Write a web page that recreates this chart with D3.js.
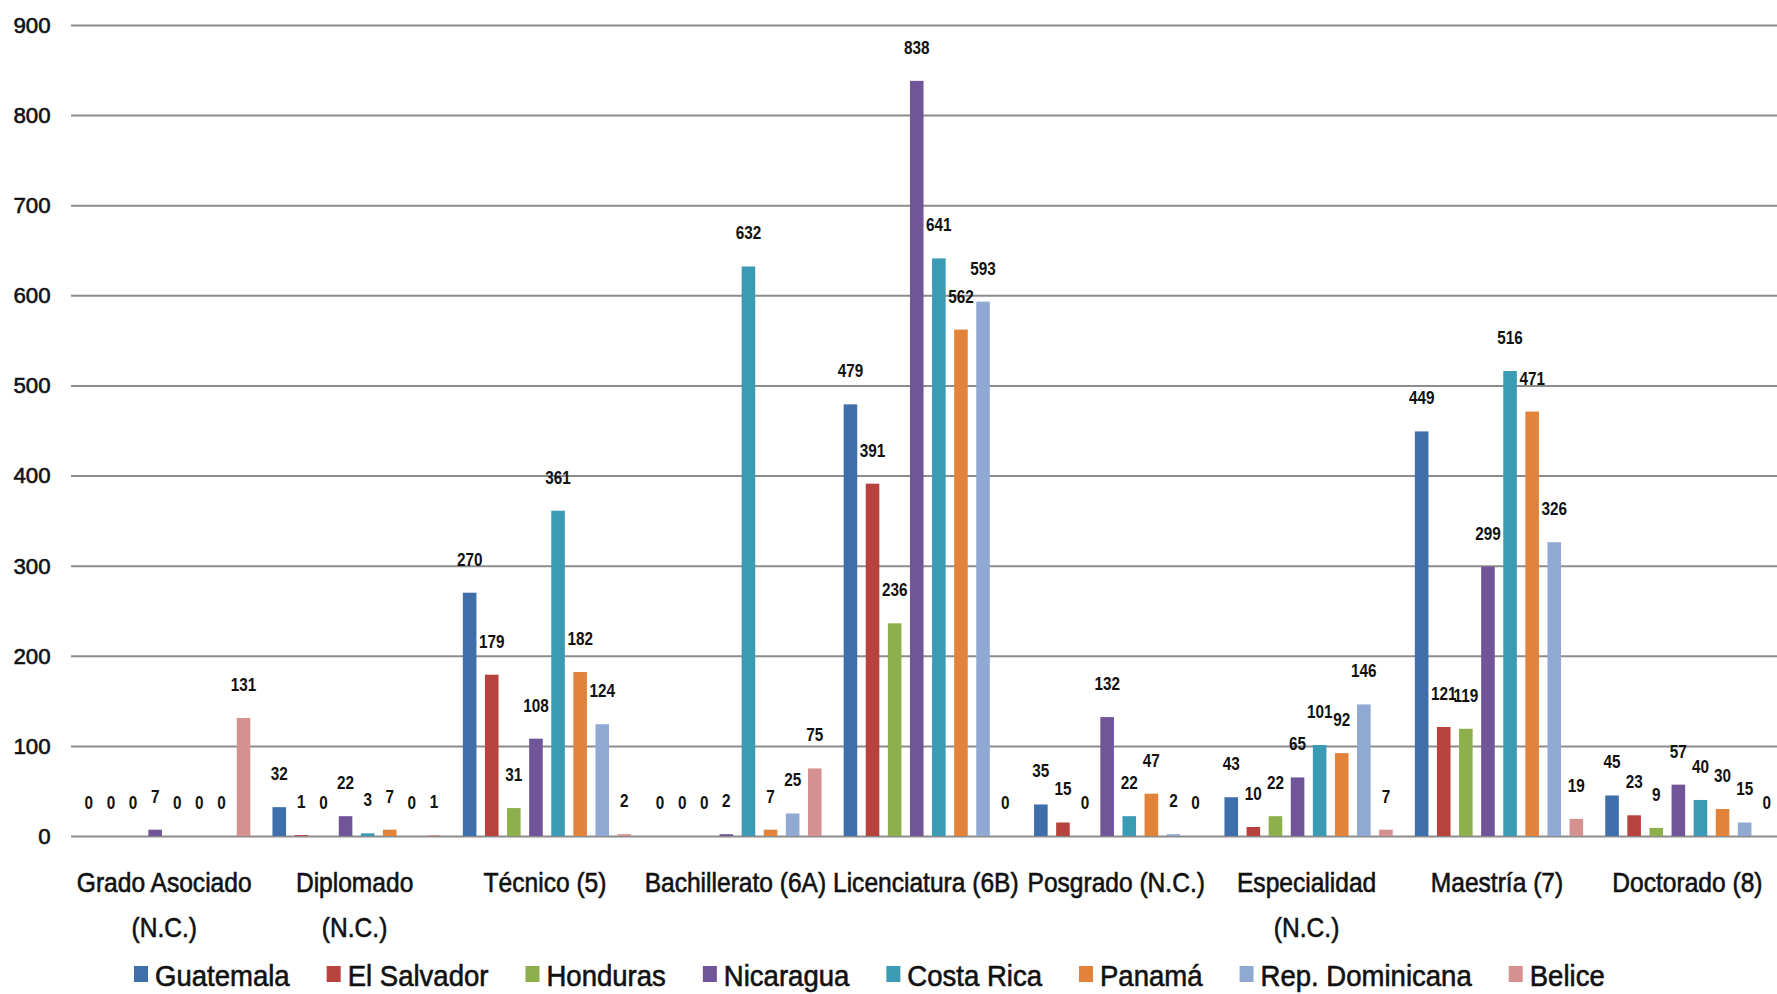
<!DOCTYPE html>
<html>
<head>
<meta charset="utf-8">
<script src="https://cdn.jsdelivr.net/npm/d3@7/dist/d3.min.js"></script>
<style>
  html, body { margin: 0; padding: 0; background: #fff; }
  svg text { font-family: "Liberation Sans", Arial, sans-serif; fill: #111; }
  svg text.heavy { stroke: #111; stroke-width: 0.6px; }
</style>
</head>
<body>
<div id="chart"></div>
<script>
// categories (education levels), one label line per entry
var categories = [
  ["Grado Asociado", "(N.C.)"],
  ["Diplomado", "(N.C.)"],
  ["Técnico (5)"],
  ["Bachillerato (6A)"],
  ["Licenciatura (6B)"],
  ["Posgrado (N.C.)"],
  ["Especialidad", "(N.C.)"],
  ["Maestría (7)"],
  ["Doctorado (8)"]
];

var countries = ["Guatemala", "El Salvador", "Honduras", "Nicaragua", "Costa Rica", "Panamá", "Rep. Dominicana", "Belice"];
var colors    = ["#3f6faa", "#b8423e", "#8db04c", "#705598", "#3b9bb5", "#e3833a", "#90a9d2", "#d5918f"];

var guatemala    = [0, 32, 270, 0, 479, 35, 43, 449, 45];
var elSalvador   = [0, 1, 179, 0, 391, 15, 10, 121, 23];
var honduras     = [0, 0, 31, 0, 236, 0, 22, 119, 9];
var nicaragua    = [7, 22, 108, 2, 838, 132, 65, 299, 57];
var costaRica    = [0, 3, 361, 632, 641, 22, 101, 516, 40];
var panama       = [0, 7, 182, 7, 562, 47, 92, 471, 30];
var repDominicana= [0, 0, 124, 25, 593, 2, 146, 326, 15];
var belice       = [131, 1, 2, 75, 0, 0, 7, 19, 0];

var yTicks = [0, 100, 200, 300, 400, 500, 600, 700, 800, 900];

var series = [guatemala, elSalvador, honduras, nicaragua, costaRica, panama, repDominicana, belice];

var W = 1777, H = 994,
    margin = {top: 25, left: 71, bottom: 158},
    plotW = 9 * 190.4,
    plotH = H - margin.top - margin.bottom;

// the original font is a narrow one, so squeeze text horizontally
function squeeze(t, x, y, s){
    t.attr("transform", "translate(" + x + "," + y + ") scale(" + s + ",1)");
}

var svg = d3.select("#chart").append("svg")
    .attr("width", W).attr("height", H)
    .attr("viewBox", "0 0 " + W + " " + H);

var x0 = d3.scaleBand().domain(d3.range(categories.length)).range([0, plotW]);
var x1 = d3.scaleBand().domain(d3.range(countries.length)).range([0, x0.bandwidth()])
    .paddingInner(0.385).paddingOuter(0.5);
var y = d3.scaleLinear().domain([0, 900]).range([plotH, 0]);

var g = svg.append("g").attr("transform", "translate(" + margin.left + "," + margin.top + ")");

// gridlines + y labels
var yAxis = g.append("g").call(d3.axisLeft(y).tickValues(yTicks).tickSize(-W).tickPadding(21));
yAxis.select(".domain").remove();
yAxis.selectAll(".tick line").attr("stroke", "#8c8c8c").attr("stroke-width", 2);
yAxis.selectAll(".tick text")
    .attr("class", "heavy")
    .style("font-size", "23px").attr("fill", "#111")
    .attr("transform", "scale(0.97,1)");

// bars
var groups = g.selectAll("g.cat")
  .data(categories.map(function(c, i){
      return series.map(function(s, k){ return {cat: i, k: k, value: s[i]}; });
  }))
  .enter().append("g").attr("class", "cat")
  .attr("transform", function(d, i){ return "translate(" + x0(i) + ",0)"; });

groups.selectAll("rect")
  .data(function(d){ return d; })
  .enter().append("rect")
  .attr("x", function(d){ return x1(d.k); })
  .attr("width", x1.bandwidth())
  .attr("y", function(d){ return y(d.value); })
  .attr("height", function(d){ return plotH - y(d.value); })
  .attr("fill", function(d){ return colors[d.k]; });

groups.selectAll("text.lbl")
  .data(function(d){ return d; })
  .enter().append("text").attr("class", "lbl")
  .attr("text-anchor", "middle")
  .style("font-size", "18px")
  .style("font-weight", "bold")
  .text(function(d){ return d.value; })
  .each(function(d){
      squeeze(d3.select(this), x1(d.k) + x1.bandwidth() / 2, y(d.value) - 27, 0.85);
  });

// category labels
var xl = g.append("g").attr("transform", "translate(0," + plotH + ")");
xl.selectAll("text")
  .data(categories)
  .enter().append("text")
  .attr("class", "heavy")
  .attr("text-anchor", "middle")
  .style("font-size", "27px")
  .each(function(d, i){
      var t = d3.select(this);
      squeeze(t, x0(i) + x0.bandwidth() / 2 - 2, 56, 0.91);
      d.forEach(function(line, j){
          t.append("tspan").attr("x", 0).attr("dy", j ? 45 : 0).text(line);
      });
  });

// legend
var legend = svg.append("g").attr("transform", "translate(134," + 975 + ")");
var lx = 0, ls = 0.95;
countries.forEach(function(name, k){
    var item = legend.append("g").attr("transform", "translate(" + lx + ",0)");
    item.append("rect").attr("x", 0).attr("y", -9).attr("width", 14).attr("height", 16).attr("fill", colors[k]);
    var t = item.append("text").attr("class", "heavy").style("font-size", "29px").text(name);
    squeeze(t, 21, 11, ls);
    lx += 21 + t.node().getComputedTextLength() * ls + 37;
});
</script>
</body>
</html>
